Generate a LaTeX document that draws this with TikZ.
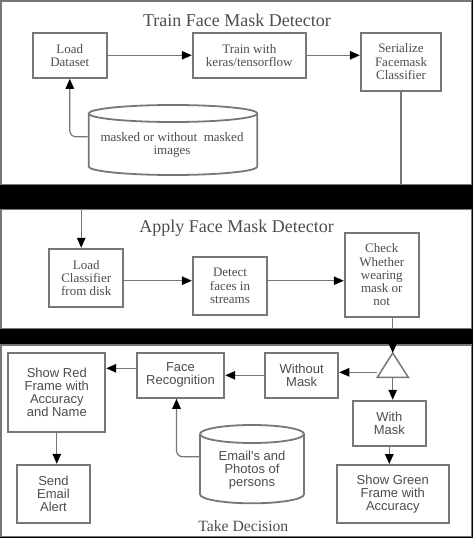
\documentclass[tikz,border=0pt]{standalone}
\usepackage{fontspec}
\setmainfont{Liberation Serif}
\newfontfamily\sansf{Liberation Sans}
\usetikzlibrary{arrows.meta}
\definecolor{bord}{HTML}{777777}
\definecolor{txt}{HTML}{4D4D4D}
\begin{document}
\begin{tikzpicture}[x=1pt,y=-1pt,
 box/.style={draw=bord,line width=1.8pt,fill=white,text=txt,align=center,inner sep=1pt,font=\fontsize{13}{13.2}\selectfont},
 sbox/.style={box,font=\sansf\fontsize{13}{13}\selectfont},
 conn/.style={draw=bord,line width=1.2pt,-{Triangle[length=10pt,width=8.5pt,color=black]}},
 rconn/.style={conn,rounded corners=6pt},
 cyl/.style={draw=bord,line width=1.8pt,fill=white},
 dbtext/.style={text=txt,align=center,inner sep=0pt},
 panel/.style={draw=bord,line width=1.2pt,fill=white},
 title/.style={text=txt,font=\fontsize{18}{18}\selectfont,inner sep=0pt}]
\useasboundingbox (0,0) rectangle (473,538);
\fill[black] (0,0) rectangle (473,538);
% panels
\draw[panel] (1,1) rectangle (471.5,184.3);
\draw[panel] (1,209.3) rectangle (471.5,328.3);
\draw[panel] (1,345) rectangle (471.5,536.7);
% titles
\node[title] (t1) at (237,20.7) {Train Face Mask Detector};
\node[title] (t2) at (236.7,228.3) {Apply Face Mask Detector};
\node[title,font=\fontsize{15.7}{15.7}\selectfont] (t3) at (243.3,526.2) {Take Decision};
% panel 1
\node[box,minimum width=74.3pt,minimum height=45.3pt] (load) at (69.8,55.3) {Load\\Dataset};
\node[box,minimum width=113.3pt,minimum height=45.3pt] (train) at (249.3,55.3) {Train with\\keras/tensorflow};
\node[box,minimum width=80.6pt,minimum height=58pt] (ser) at (401,61.7) {Serialize\\Facemask\\Classifier};
% cylinder 1
\draw[cyl] (88.7,113.5) -- (88.7,166.5) arc[start angle=180,end angle=360,x radius=84.3pt,y radius=8.5pt] -- (257.3,113.5) arc[start angle=0,end angle=180,x radius=84.3pt,y radius=8.5pt];
\draw[cyl,fill=none] (257.3,113.5) arc[start angle=0,end angle=-180,x radius=84.3pt,y radius=8.5pt];
\node[dbtext,font=\fontsize{13}{13.2}\selectfont,minimum width=168.6pt] (db1) at (172,145) {masked or without\ \ masked\\images};
% panel 2
\node[box,minimum width=74.3pt,minimum height=58.3pt] (lc) at (86.2,277.8) {Load\\Classifier\\from disk};
\node[box,minimum width=74.6pt,minimum height=58pt] (dt) at (230,286) {Detect\\faces in\\streams};
\node[box,minimum width=74.3pt,minimum height=84.3pt] (chk) at (381.8,274.8) {Check\\Whether\\wearing\\mask or\\not};
% panel 3
\node[sbox,minimum width=97pt,minimum height=79.6pt] (sr) at (56.8,392.5) {Show Red\\Frame with\\Accuracy\\and Name};
\node[sbox,minimum width=87.6pt,minimum height=45.3pt] (fr) at (180.5,375.3) {Face\\Recognition};
\node[sbox,minimum width=73.3pt,minimum height=45.3pt] (wom) at (301.7,375.3) {Without\\Mask};
\node[sbox,minimum width=73.6pt,minimum height=58pt] (se) at (53.5,493.7) {Send\\Email\\Alert};
\node[sbox,minimum width=73.3pt,minimum height=45.3pt] (wm) at (389.3,423.3) {With\\Mask};
\node[sbox,minimum width=112.3pt,minimum height=57.7pt] (sg) at (392.8,493.8) {Show Green\\Frame with\\Accuracy};
% cylinder 2
\draw[cyl] (200,434) -- (200,494.3) arc[start angle=180,end angle=360,x radius=52pt,y radius=9pt] -- (304,434) arc[start angle=0,end angle=180,x radius=52pt,y radius=9pt];
\draw[cyl,fill=none] (304,434) arc[start angle=0,end angle=-180,x radius=52pt,y radius=9pt];
\node[dbtext,font=\sansf\fontsize{13}{13}\selectfont,minimum width=104pt] (db2) at (252,469.7) {Email's and\\Photos of\\persons};
% triangle
\coordinate (triA) at (392.7,353);
\coordinate (triB) at (392.7,377.3);
\coordinate (triL) at (377,372.3);
\draw[draw=bord,line width=1.5pt,fill=white] (triA) -- (408.3,377.3) -- (377.3,377.3) -- cycle;
% connectors panel 1
\draw[conn] (load.east) -- (train.west);
\draw[conn] (train.east) -- (train.east -| ser.west);
\draw[rconn] ([yshift=8.3pt]db1.west) -| (load.south);
% connectors across
\draw[conn] (ser.south) -- (ser.south |- 0,196) -| ([xshift=-5pt]lc.north);
\draw[conn] (triA |- chk.south) -- (triA);
% panel 2
\coordinate (row2) at (0,280.7);
\draw[conn] (lc.east |- row2) -- (dt.west |- row2);
\draw[conn] (dt.east |- row2) -- (chk.west |- row2);
% panel 3
\draw[conn] (triL) -- (triL -| wom.east);
\draw[conn] (wom.west) -- (fr.east);
\coordinate (a1) at ([yshift=7pt]fr.west);
\draw[conn] (a1) -- (a1 -| sr.east);
\draw[conn] (sr.south) -- (sr.south |- se.north);
\draw[rconn] ([yshift=13pt]db2.west) -| ([xshift=-4pt]fr.south);
\draw[conn] (triB) -- (triB |- wm.north);
\draw[conn] (wm.south) -- (wm.south |- sg.north);
% black bands over hidden connector parts
\fill[black] (0,185.1) rectangle (473,208.5);
\fill[black] (0,329.1) rectangle (473,344.2);
\end{tikzpicture}
\end{document}
